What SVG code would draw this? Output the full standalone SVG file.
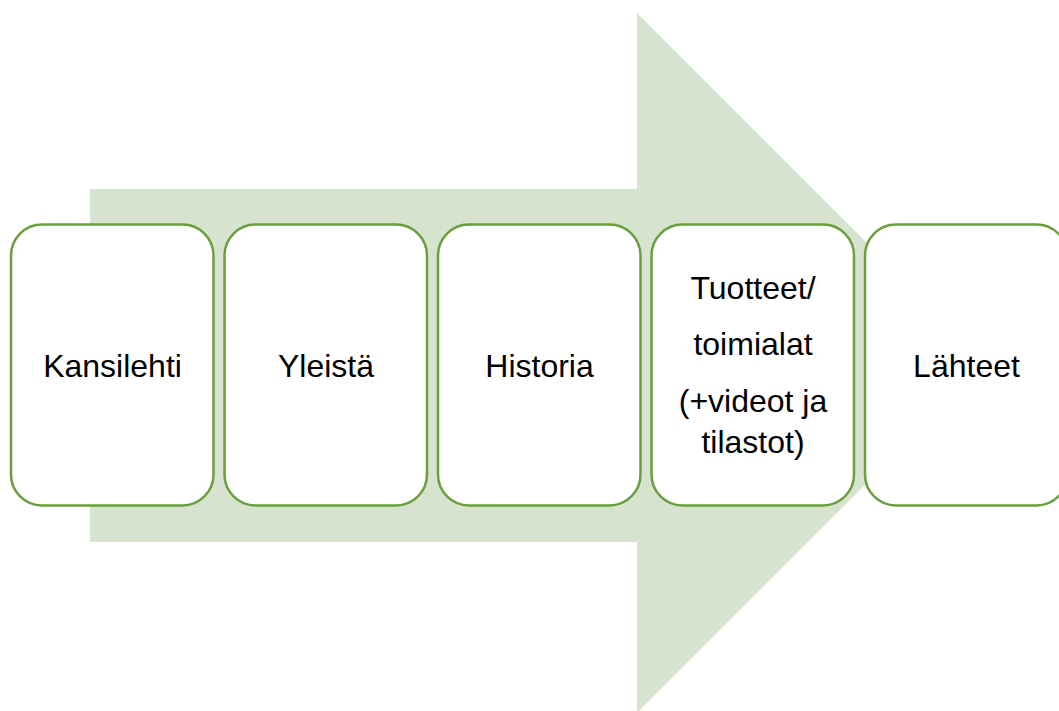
<svg xmlns="http://www.w3.org/2000/svg" width="1059" height="711" viewBox="0 0 1059 711">
<style>
.box{fill:#ffffff;stroke:#6a9f3e;stroke-width:2.5}
.t{font-family:"Liberation Sans",Arial,sans-serif;font-size:32px;fill:#000000;text-anchor:middle}
</style>
<rect width="1059" height="711" fill="#ffffff"/>
<g id="arrow">
<polygon points="90,189 637,189 637,13 987,363 637,713 637,542 90,542" fill="#d6e4cf"/>
</g>
<g id="connectors"></g>
<g id="node1"><rect class="box" x="11" y="224.5" width="202.5" height="281" rx="31"/><text class="t" x="112.5" y="377">Kansilehti</text></g>
<g id="node2"><rect class="box" x="224.5" y="224.5" width="202.5" height="281" rx="31"/><text class="t" x="326" y="377">Yleistä</text></g>
<g id="node3"><rect class="box" x="438" y="224.5" width="202.5" height="281" rx="31"/><text class="t" x="539.5" y="377">Historia</text></g>
<g id="node4"><rect class="box" x="651.5" y="224.5" width="202.5" height="281" rx="31"/>
<text class="t" x="753" y="299">Tuotteet/</text>
<text class="t" x="753" y="355">toimialat</text>
<text class="t" x="753" y="412">(+videot ja</text>
<text class="t" x="753" y="453">tilastot)</text></g>
<g id="node5"><rect class="box" x="865" y="224.5" width="202.5" height="281" rx="31"/><text class="t" x="966.5" y="377">Lähteet</text></g>
</svg>
